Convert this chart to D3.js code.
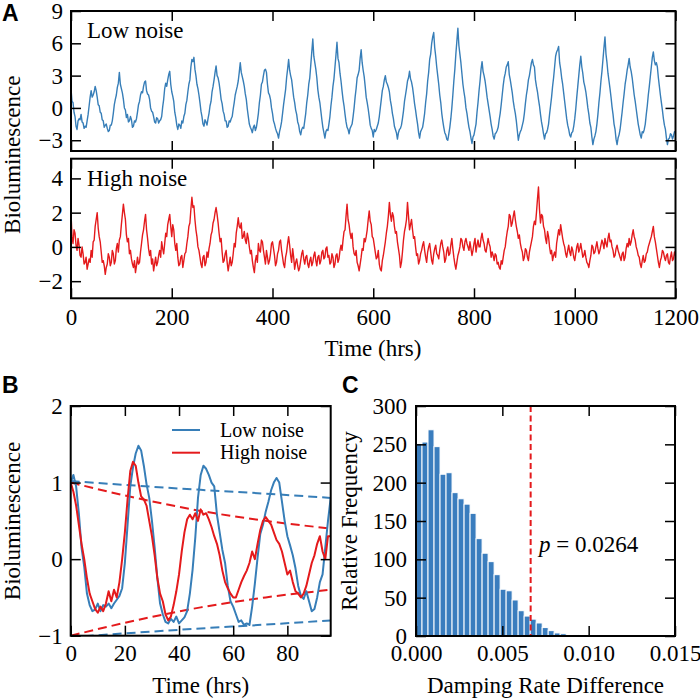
<!DOCTYPE html>
<html><head><meta charset="utf-8">
<script src="https://cdn.jsdelivr.net/npm/d3@7"></script>
<style>
body{margin:0;background:#fff;}
svg text{font-family:"Liberation Serif",serif;}
</style></head><body>
<svg id="chart" width="700" height="700"></svg>
<script>
// ---------------- DATA ----------------
// Panel A: sampled every 2 hours, 0..1200
const timeStepA = 2;
const lowNoiseA = [
 1.8, 0.6, 0.5, -0.4, -0.8, -1.7, -2.0, -1.2, -1.0, -1.1, -0.6, -1.3, -1.4, -1.9, -1.7, -1.8, -1.2, -0.6, 0.2, 1.0, 1.6, 1.0, 1.2, 1.5,
 2.0, 1.6, 1.0, 0.3, 0.2, -0.4, -0.5, -1.1, -1.2, -1.8, -1.6, -1.5, -1.9, -2.2, -2.1, -1.6, -1.6, -1.2, -0.5, 0.3, 0.8, 1.2, 1.9, 2.3,
 3.3, 2.2, 1.8, 1.4, 0.8, 0.0, -0.2, -0.9, -0.6, -1.3, -1.2, -0.8, -1.1, -1.8, -1.7, -1.2, -1.3, -1.0, -0.4, 0.3, 0.6, 1.2, 1.5, 1.4,
 2.0, 2.4, 2.5, 1.6, 1.3, 1.2, 0.8, 0.0, -0.3, -0.4, -0.8, -1.3, -1.4, -0.9, -1.0, -1.4, -1.2, -1.1, -0.8, 0.1, 0.8, 1.8, 2.3, 2.0,
 2.6, 3.1, 3.4, 2.2, 1.5, 1.1, 0.6, -0.4, -0.9, -1.6, -2.0, -1.5, -1.6, -1.9, -1.2, -1.4, -0.8, -0.5, 0.3, 0.7, 1.5, 2.2, 2.6, 3.8,
 4.5, 4.3, 4.7, 3.6, 3.0, 2.2, 1.8, 1.2, 0.5, -0.3, -0.8, -1.5, -1.7, -1.1, -1.3, -1.6, -1.0, -0.5, 0.2, 0.6, 1.5, 2.0, 2.6, 3.3,
 3.9, 3.0, 2.8, 2.3, 1.6, 0.8, 0.4, -0.3, -0.6, -1.2, -1.2, -1.8, -1.7, -1.2, -1.3, -1.0, -0.8, -0.1, 0.5, 1.2, 1.6, 2.0, 2.5, 3.3,
 4.2, 3.3, 2.9, 2.5, 2.0, 1.3, 0.8, -0.1, -0.8, -1.5, -1.8, -2.0, -2.3, -1.8, -1.6, -2.1, -1.8, -1.2, -0.5, 0.5, 1.2, 2.2, 2.4, 3.0,
 3.5, 3.6, 3.3, 2.2, 1.4, 1.2, 0.8, 0.0, -0.5, -1.2, -1.5, -1.9, -2.2, -2.4, -2.8, -2.2, -1.8, -1.3, -0.5, 0.3, 1.0, 1.7, 2.8, 3.6,
 4.5, 3.5, 3.0, 2.6, 1.8, 1.0, 0.5, -0.2, -0.6, -1.3, -1.6, -2.2, -2.5, -2.0, -1.8, -1.9, -1.2, -0.5, 0.5, 1.2, 2.2, 2.8, 4.0, 5.2,
 6.4, 4.8, 4.2, 3.6, 2.8, 1.7, 1.0, 0.5, -0.3, -1.1, -1.8, -2.3, -2.8, -2.2, -2.0, -2.1, -1.5, -0.8, 0.2, 1.0, 2.0, 2.7, 3.8, 4.9,
 6.1, 4.6, 4.2, 3.2, 2.5, 1.6, 0.8, 0.2, -0.6, -1.3, -1.8, -2.0, -2.4, -1.9, -1.7, -1.5, -0.8, 0.0, 1.0, 1.8, 2.8, 3.1, 3.5, 4.6,
 5.4, 4.2, 3.5, 2.9, 2.0, 1.0, 0.5, -0.1, -0.8, -1.6, -1.9, -2.1, -2.7, -2.0, -2.2, -2.0, -1.7, -1.4, -0.8, 0.0, 0.8, 1.6, 2.0, 2.6,
 3.0, 2.4, 2.2, 1.9, 1.5, 0.7, 0.2, -0.5, -1.0, -1.7, -2.0, -2.3, -2.9, -2.3, -2.0, -1.9, -1.6, -1.0, -0.3, 0.6, 1.2, 1.8, 2.5, 2.8,
 3.4, 2.7, 2.4, 1.9, 1.2, 0.4, -0.2, -0.9, -1.5, -2.3, -2.8, -2.2, -2.0, -1.8, -1.2, -0.5, 0.5, 1.3, 2.5, 3.3, 4.5, 5.0, 6.0, 6.6,
 7.0, 5.6, 4.8, 3.8, 3.0, 2.2, 1.2, 0.5, -0.5, -1.2, -1.8, -2.3, -2.5, -2.9, -3.0, -2.4, -1.8, -1.0, 0.0, 1.2, 2.5, 3.6, 5.0, 6.2,
 7.4, 5.8, 5.0, 4.2, 3.2, 2.2, 1.5, 0.9, 0.0, -0.5, -1.2, -1.8, -2.2, -2.8, -3.3, -2.7, -2.5, -2.0, -1.5, -0.4, 0.5, 1.6, 2.5, 3.6,
 4.3, 3.4, 3.0, 2.5, 1.8, 1.0, 0.4, -0.2, -0.8, -1.5, -2.0, -2.6, -2.9, -2.4, -2.3, -2.1, -1.8, -1.1, -0.5, 0.3, 1.2, 2.1, 2.8, 3.2,
 3.8, 4.0, 4.3, 3.1, 2.6, 2.0, 1.4, 0.6, 0.0, -0.5, -1.2, -2.1, -3.0, -2.5, -2.2, -2.0, -1.6, -1.2, -0.5, 0.4, 1.2, 1.8, 2.6, 3.0,
 3.6, 4.2, 4.5, 4.0, 3.8, 2.6, 2.0, 1.5, 0.8, 0.2, -0.6, -1.3, -1.8, -2.4, -2.9, -2.4, -2.3, -2.0, -1.5, -0.6, 0.2, 1.0, 2.0, 2.8,
 3.8, 4.8, 5.2, 5.4, 5.7, 4.2, 3.6, 2.8, 2.2, 1.4, 0.6, -0.2, -1.0, -1.6, -2.0, -2.5, -2.7, -2.3, -2.2, -1.7, -1.0, -0.1, 1.0, 2.0,
 3.0, 4.0, 4.8, 3.8, 3.2, 2.4, 2.0, 1.5, 0.8, 0.0, -0.6, -1.4, -1.8, -2.7, -3.4, -2.9, -2.6, -2.2, -1.5, -0.6, 0.5, 1.4, 2.5, 3.4,
 4.5, 5.6, 6.6, 5.0, 4.2, 3.2, 2.5, 1.8, 1.0, 0.1, -0.6, -1.5, -2.0, -2.9, -3.4, -2.8, -2.5, -2.0, -1.2, -0.4, 0.5, 1.3, 2.2, 2.8,
 3.5, 4.0, 4.6, 3.8, 3.4, 2.8, 2.0, 1.2, 0.6, -0.1, -0.8, -1.5, -2.0, -2.5, -2.8, -2.2, -2.3, -2.0, -1.5, -0.6, 0.2, 1.2, 2.0, 2.9,
 3.8, 4.7, 5.2, 4.4, 4.0, 4.2, 3.8, 2.8, 2.0, 1.2, 0.5, -0.2, -1.0, -1.6, -2.0, -2.8, -3.4, -2.9, -2.8, -2.4, -2.5, -2.9, -2.6, -2.2, -2.3
];
const highNoiseA = [
 2.0, 0.6, 0.2, 1.0, 0.8, 0.1, -0.2, 0.5, 0.1, -0.5, -0.6, 0.0, -0.4, -1.0, -0.9, -0.6, -1.3, -1.0, -0.7, -0.9, -0.2, -0.6, 0.3, 0.4,
 1.2, 1.6, 2.0, 1.1, 0.6, 0.3, -0.3, -0.9, -0.8, -1.1, -1.6, -1.2, -1.0, -0.4, -0.6, -1.1, -0.9, -0.2, -0.4, -1.0, -0.8, -0.1, 0.2, -0.3,
 0.4, 0.6, 1.3, 1.9, 2.5, 2.0, 1.6, 0.7, 0.3, 0.5, -0.4, -0.2, -0.7, -1.0, -1.2, -0.8, -1.5, -1.1, -0.6, -1.0, -0.9, -0.3, 0.2, 0.7,
 1.0, 1.5, 1.9, 1.0, 0.5, -0.1, -0.5, -0.2, -1.0, -0.7, -1.4, -1.0, -0.6, -1.1, -0.9, -0.5, -0.2, -0.6, 0.3, -0.1, -0.4, 0.2, 0.8, 0.6,
 1.3, 1.6, 1.9, 1.2, 0.6, 1.3, 1.0, 0.2, -0.2, 0.2, -0.6, -1.1, -1.0, -0.6, -0.5, -1.2, -0.8, -0.4, -0.3, 0.2, 0.6, 1.2, 1.4, 2.2,
 2.9, 2.3, 2.4, 1.6, 1.0, 0.6, 0.0, -0.2, -0.6, -1.0, -1.2, -0.6, -0.5, -1.1, -0.9, -0.3, -0.6, -0.1, 0.2, 0.7, 0.9, 1.4, 1.6, 2.0,
 2.3, 1.9, 1.4, 0.8, 0.3, 0.5, -0.3, -0.9, -0.8, -0.4, -0.2, -0.9, -1.4, -1.0, -0.6, -1.1, -0.9, -0.4, 0.2, 0.0, 0.8, 1.2, 1.7, 1.2,
 1.1, 1.4, 0.5, 0.6, 0.9, 0.4, 0.2, 0.8, 0.5, 0.0, -0.4, -0.2, -0.8, -1.2, -1.5, -0.8, -0.5, -0.9, 0.2, -0.2, -0.3, 0.4, 0.3, -0.2,
 -0.6, -1.0, -0.2, -0.6, -1.0, -0.8, -0.4, 0.2, 0.3, -0.1, -0.5, -1.1, -0.9, -0.4, -0.2, 0.3, 0.4, -0.2, -0.6, -1.0, -1.2, -0.6, -0.3, 0.2,
 0.6, 0.1, -0.5, -0.9, -0.1, -0.6, -1.3, -0.9, -0.7, -1.1, -1.4, -1.2, -0.8, -0.4, -0.2, -0.7, -1.0, -0.6, -0.5, -1.0, -1.2, -0.8, -0.6, -1.1,
 -0.9, -0.5, -0.3, -0.8, -1.1, -0.6, -0.5, -1.0, -0.8, -0.3, -0.2, -0.7, -0.6, -0.1, 0.0, -0.6, -0.5, -1.0, -0.9, -0.4, -0.6, -1.2, -1.0, -0.5,
 -0.4, -0.9, -0.7, -0.2, 0.1, -0.2, 0.4, 0.9, 1.0, 1.8, 2.5, 1.6, 1.3, 0.8, 0.5, 0.8, 0.0, -0.4, -0.5, -0.2, -0.9, -1.1, -1.4, -1.0,
 -0.6, -0.1, -0.2, 0.5, 0.3, 0.6, 1.0, 1.6, 2.1, 1.5, 1.3, 0.6, 0.5, 0.1, -0.3, -0.7, -0.6, -0.2, -1.0, -1.3, -1.4, -0.8, -0.5, -0.1,
 0.3, 0.8, 1.2, 1.8, 2.6, 1.9, 1.5, 2.0, 1.8, 1.2, 0.8, 0.9, 0.3, -0.1, -0.5, -1.2, -0.9, -0.3, 0.4, 0.9, 1.2, 1.6, 2.6, 1.8,
 1.0, 1.3, 1.6, 1.0, 0.5, 0.6, 0.0, -0.5, -0.4, -1.0, -0.8, -0.4, -0.2, 0.1, 0.3, -0.2, -0.6, -0.9, -0.3, 0.0, 0.2, -0.3, -0.8, -1.0,
 -0.4, -0.1, 0.1, -0.4, -0.5, -0.7, -0.2, 0.2, 0.4, 0.0, -0.3, -0.9, -0.7, -0.2, 0.0, -0.5, -0.4, 0.1, 0.5, -0.1, -0.6, -1.0, -1.3, -0.9,
 -0.5, -0.3, 0.0, 0.5, 0.4, 0.0, -0.2, 0.3, 0.5, 0.2, 0.0, -0.2, 0.3, -0.1, -0.5, -0.2, 0.2, 0.5, -0.3, 0.1, 0.4, 0.0, 0.0, 0.5,
 0.8, 0.4, 0.2, -0.2, -0.3, 0.1, 0.5, 0.2, 0.0, -0.6, -0.3, -0.5, -0.8, -0.4, -0.5, -1.0, -0.9, -1.2, -1.3, -0.8, -1.0, -0.6, -0.2, 0.0,
 0.5, 0.9, 1.2, 1.9, 1.8, 1.2, 1.4, 1.8, 2.1, 1.6, 1.2, 0.9, 0.5, 0.7, 0.2, -0.1, -0.3, -0.8, -0.6, -0.1, -0.2, -0.6, -0.8, -0.3,
 0.0, 0.3, 0.6, 1.2, 1.5, 1.3, 2.0, 2.8, 3.5, 2.2, 1.4, 1.9, 1.8, 1.2, 1.0, 0.5, 0.2, 0.9, 0.6, 0.0, -0.4, -0.2, -0.8, -0.5,
 -0.3, -0.6, 0.2, 0.6, 1.0, 0.7, 1.3, 0.9, 0.5, 0.2, 0.0, -0.4, -0.6, -0.2, 0.1, -0.3, -0.5, 0.0, -0.2, -0.6, -0.8, -0.4, 0.0, 0.2,
 -0.3, -0.1, 0.2, -0.2, -0.6, -0.5, -0.2, -0.6, -0.9, -1.0, -1.2, -0.8, -0.5, 0.1, 0.0, -0.4, -0.3, 0.0, 0.3, -0.1, -0.4, -0.2, 0.1, 0.4,
 0.2, -0.1, 0.5, 0.2, 0.0, 0.5, 0.8, 0.3, 0.4, 0.0, -0.2, -0.6, -0.5, -0.1, 0.1, -0.2, -0.4, -0.6, -0.8, -0.4, -0.3, -0.8, -0.6, -0.1,
 0.2, 0.0, 0.5, 0.1, 0.3, 0.7, 1.0, 0.6, 0.4, 0.0, -0.2, -0.5, -0.6, -1.0, -1.2, -0.8, -0.5, -0.9, -0.8, -0.4, -0.3, 0.0, 0.2, 0.4,
 0.6, 0.9, 1.2, 0.6, 0.3, -0.1, -0.5, -0.9, -1.2, -0.8, -0.6, -0.2, -0.3, -0.6, -0.8, -0.5, -0.4, -0.9, -1.0, -0.6, -0.3, -0.8, -0.7, -0.3, -0.5
];
const ticksA_x = [0, 200, 400, 600, 800, 1000, 1200];
const ticksA_yTop = [-3, 0, 3, 6, 9];
const ticksA_yBot = [-2, 0, 2, 4];

// Panel B: sampled every hour, 0..96
const timeStepB = 1;
const lowNoiseB = [
 1.0, 1.1, 0.95, 0.6, 0.15, -0.1, -0.45, -0.6, -0.68, -0.66,
 -0.58, -0.68, -0.6, -0.62, -0.58, -0.64, -0.58, -0.53, -0.48, -0.38,
 -0.05, 0.45, 0.95, 1.2, 1.38, 1.48, 1.42, 1.22, 0.98, 0.8,
 0.5, 0.15, -0.25, -0.58, -0.72, -0.82, -0.84, -0.78, -0.82, -0.75,
 -0.84, -0.8, -0.76, -0.68, -0.45, -0.14, 0.28, 0.8, 1.1, 1.22,
 1.18, 1.1, 1.0, 0.95, 0.58, 0.35, 0.12, -0.05, -0.35, -0.55,
 -0.62, -0.72, -0.82, -0.8, -0.86, -0.84, -0.86, -0.62, -0.32, 0.02,
 0.33, 0.45, 0.62, 0.75, 0.9, 1.0, 1.06, 1.0, 0.75, 0.5,
 0.3, 0.18, 0.05, -0.12, -0.35, -0.48, -0.52, -0.42, -0.55, -0.68,
 -0.65, -0.5, -0.3, -0.2, 0.15, 0.5, 0.8
];
const highNoiseB = [
 1.0, 0.88, 0.7, 0.45, 0.2, 0.0, -0.25, -0.45, -0.55, -0.65,
 -0.7, -0.62, -0.68, -0.58, -0.42, -0.55, -0.4, -0.5, -0.3, 0.0,
 0.35, 0.78, 1.15, 1.27, 1.22, 1.0, 0.82, 0.78, 0.7, 0.5,
 0.3, 0.05, -0.25, -0.45, -0.55, -0.72, -0.8, -0.75, -0.6, -0.42,
 -0.2, 0.1, 0.35, 0.52, 0.58, 0.52, 0.6, 0.5, 0.65, 0.58,
 0.6, 0.52, 0.42, 0.3, 0.2, 0.05, -0.15, -0.3, -0.38, -0.45,
 -0.5, -0.5, -0.4, -0.3, -0.22, -0.15, -0.05, 0.1, 0.0, 0.2,
 0.38, 0.5, 0.55, 0.5, 0.45, 0.35, 0.25, 0.2, 0.1, -0.05,
 -0.2, -0.15, -0.3, -0.42, -0.45, -0.5, -0.45, -0.35, -0.2, -0.05,
 0.05, 0.2, 0.3, 0.1, 0.0, 0.3, 0.3
];
const envTimes = [0, 24, 48, 72, 96];
const lowEnvUpper = [1.02, 0.96, 0.905, 0.855, 0.80];
const lowEnvLower = [-1.02, -0.96, -0.905, -0.855, -0.80];
const highEnvUpper = [1.0, 0.80, 0.63, 0.50, 0.40];
const highEnvLower = [-1.0, -0.80, -0.63, -0.50, -0.40];
const ticksB_x = [0, 20, 40, 60, 80];
const ticksB_y = [-1, 0, 1, 2];
const legendLabels = ["Low noise", "High noise"];

// Panel C: histogram
const binWidth = 0.000348;
const histCounts = [251, 253, 269, 247, 211, 213, 187, 179, 172, 160, 127, 108, 97, 80,
                    61, 59, 47, 33, 26, 22, 17, 11, 7, 4, 3, 0, 2];
const pThreshold = 0.00664;
const pValueText = "0.0264";
const ticksC_x = [0, 0.005, 0.010, 0.015];
const ticksC_y = [0, 50, 100, 150, 200, 250, 300];

// ---------------- STYLE ----------------
const BLUE = "#377eb8", RED = "#e41a1c";
const FS = 23, TL = 10;

const svg = d3.select("#chart");
const defs = svg.append("defs");

function clip(id, x, y) {
  const [x0, x1] = x.range(), [y0, y1] = y.range();
  defs.append("clipPath").attr("id", id).append("rect")
    .attr("x", x0).attr("y", y1).attr("width", x1 - x0).attr("height", y0 - y1);
  return `url(#${id})`;
}

function frame(x, y, o) {
  const [x0, x1] = x.range(), [y0, y1] = y.range();
  const g = svg.append("g");
  const style = sel => {
    sel.attr("font-size", FS).attr("font-family", "Liberation Serif, serif");
    sel.select(".domain").remove();
    sel.selectAll(".tick line").attr("stroke", "#000").attr("stroke-width", 1.5);
  };
  const bot = g.append("g").attr("transform", `translate(0,${y0})`)
    .call(d3.axisBottom(x).tickValues(o.xt).tickSizeInner(-TL).tickSizeOuter(0)
      .tickFormat(o.xLabels ? (o.xFmt || (d => d)) : () => ""));
  style(bot);
  bot.selectAll("text").attr("y", o.xLabY || 26).attr("dy", null).attr("fill", "#000");
  const top = g.append("g").attr("transform", `translate(0,${y1})`)
    .call(d3.axisTop(x).tickValues(o.xt).tickSizeInner(-TL).tickSizeOuter(0).tickFormat(() => ""));
  style(top);
  const left = g.append("g").attr("transform", `translate(${x0},0)`)
    .call(d3.axisLeft(y).tickValues(o.yt).tickSizeInner(-TL).tickSizeOuter(0)
      .tickFormat(o.yFmt || d3.format("")));
  style(left);
  left.selectAll("text").attr("x", -(o.yLabGap || 8)).attr("dy", "0.33em").attr("fill", "#000");
  const right = g.append("g").attr("transform", `translate(${x1},0)`)
    .call(d3.axisRight(y).tickValues(o.yt).tickSizeInner(-TL).tickSizeOuter(0).tickFormat(() => ""));
  style(right);
  g.append("rect").attr("x", x0).attr("y", y1).attr("width", x1 - x0).attr("height", y0 - y1)
    .attr("fill", "none").attr("stroke", "#000").attr("stroke-width", 2);
}

function panelLetter(t, x, y) {
  svg.append("text").attr("x", x).attr("y", y).text(t)
    .style("font-family", "'Liberation Sans', Arial, sans-serif")
    .attr("font-weight", "bold").attr("font-size", 23);
}

function ylabel(t, x, y) {
  svg.append("text").attr("transform", `translate(${x},${y}) rotate(-90)`)
    .attr("text-anchor", "middle").attr("font-size", FS).text(t);
}
function xlabel(t, x, y) {
  svg.append("text").attr("x", x).attr("y", y)
    .attr("text-anchor", "middle").attr("font-size", FS).text(t);
}

// ---------------- PANEL A ----------------
const xA = d3.scaleLinear().domain([0, 1200]).range([71, 675.5]);
const yAtop = d3.scaleLinear().domain([-4, 9]).range([151, 11]);
const yAbot = d3.scaleLinear().domain([-3, 5.15]).range([298.3, 158.7]);

const lineA1 = d3.line().x((d, i) => xA(i * timeStepA)).y(d => yAtop(d));
const lineA2 = d3.line().x((d, i) => xA(i * timeStepA)).y(d => yAbot(d));

svg.append("path").datum(lowNoiseA).attr("d", lineA1).attr("clip-path", clip("cA1", xA, yAtop))
  .attr("fill", "none").attr("stroke", BLUE).attr("stroke-width", 1.4).attr("stroke-linejoin", "round");
svg.append("path").datum(highNoiseA).attr("d", lineA2).attr("clip-path", clip("cA2", xA, yAbot))
  .attr("fill", "none").attr("stroke", RED).attr("stroke-width", 1.4).attr("stroke-linejoin", "round");

frame(xA, yAtop, {xt: ticksA_x, yt: ticksA_yTop, xLabels: false});
frame(xA, yAbot, {xt: ticksA_x, yt: ticksA_yBot, xLabels: true, xLabY: 26.3});

svg.append("text").attr("x", 87).attr("y", 38.3).attr("font-size", FS).text(legendLabels[0]);
svg.append("text").attr("x", 87).attr("y", 186).attr("font-size", FS).text(legendLabels[1]);

ylabel("Bioluminescence", 19.5, 154.7);
xlabel("Time (hrs)", 373, 356);
panelLetter("A", 2, 20.5);

// ---------------- PANEL B ----------------
const xB = d3.scaleLinear().domain([0, 96]).range([70.7, 330.7]);
const yB = d3.scaleLinear().domain([-1, 2]).range([635.7, 406]);
const cB = clip("cB", xB, yB);

const envLine = d3.line().x((d, i) => xB(envTimes[i])).y(d => yB(d)).curve(d3.curveMonotoneX);
[[lowEnvUpper, BLUE], [lowEnvLower, BLUE], [highEnvUpper, RED], [highEnvLower, RED]].forEach(([arr, c]) => {
  svg.append("path").datum(arr).attr("d", envLine).attr("clip-path", cB)
    .attr("fill", "none").attr("stroke", c).attr("stroke-width", 2).attr("stroke-dasharray", "9,5");
});

const lineB = d3.line().x((d, i) => xB(i * timeStepB)).y(d => yB(d));
svg.append("path").datum(lowNoiseB).attr("d", lineB).attr("clip-path", cB)
  .attr("fill", "none").attr("stroke", BLUE).attr("stroke-width", 2).attr("stroke-linejoin", "round");
svg.append("path").datum(highNoiseB).attr("d", lineB).attr("clip-path", cB)
  .attr("fill", "none").attr("stroke", RED).attr("stroke-width", 2).attr("stroke-linejoin", "round");

frame(xB, yB, {xt: ticksB_x, yt: ticksB_y, xLabels: true, xLabY: 25.3});

// legend
[[legendLabels[0], BLUE, 430], [legendLabels[1], RED, 452.7]].forEach(([t, c, yy]) => {
  svg.append("line").attr("x1", 172).attr("x2", 200).attr("y1", yy).attr("y2", yy)
    .attr("stroke", c).attr("stroke-width", 2);
  svg.append("text").attr("x", 220).attr("y", yy + 6.5).attr("font-size", 20).text(t);
});

ylabel("Bioluminescence", 19.5, 521);
xlabel("Time (hrs)", 200.7, 693);
panelLetter("B", 2, 393);

// ---------------- PANEL C ----------------
const xC = d3.scaleLinear().domain([0, 0.015]).range([416, 675]);
const yC = d3.scaleLinear().domain([0, 300]).range([636, 406]);
const cC = clip("cC", xC, yC);

svg.append("g").attr("clip-path", cC).selectAll("rect").data(histCounts).join("rect")
  .attr("x", (d, i) => xC(i * binWidth))
  .attr("width", xC(binWidth) - xC(0))
  .attr("y", d => yC(d))
  .attr("height", d => yC(0) - yC(d))
  .attr("fill", "#3a7dbe").attr("stroke", "#fff").attr("stroke-width", 1);

svg.append("line").attr("x1", xC(pThreshold)).attr("x2", xC(pThreshold))
  .attr("y1", yC(300)).attr("y2", yC(0))
  .attr("stroke", RED).attr("stroke-width", 2).attr("stroke-dasharray", "6,3.5");

const pt = svg.append("text").attr("x", 539).attr("y", 551.5).attr("font-size", FS);
pt.append("tspan").attr("font-style", "italic").text("p");
pt.append("tspan").text(" = " + pValueText);

frame(xC, yC, {xt: ticksC_x, yt: ticksC_y, xLabels: true, xLabY: 25, xFmt: d3.format(".3f"), yLabGap: 9});

ylabel("Relative Frequency", 357, 521);
xlabel("Damping Rate Difference", 545.5, 693);
panelLetter("C", 342, 393);
</script>
</body></html>
